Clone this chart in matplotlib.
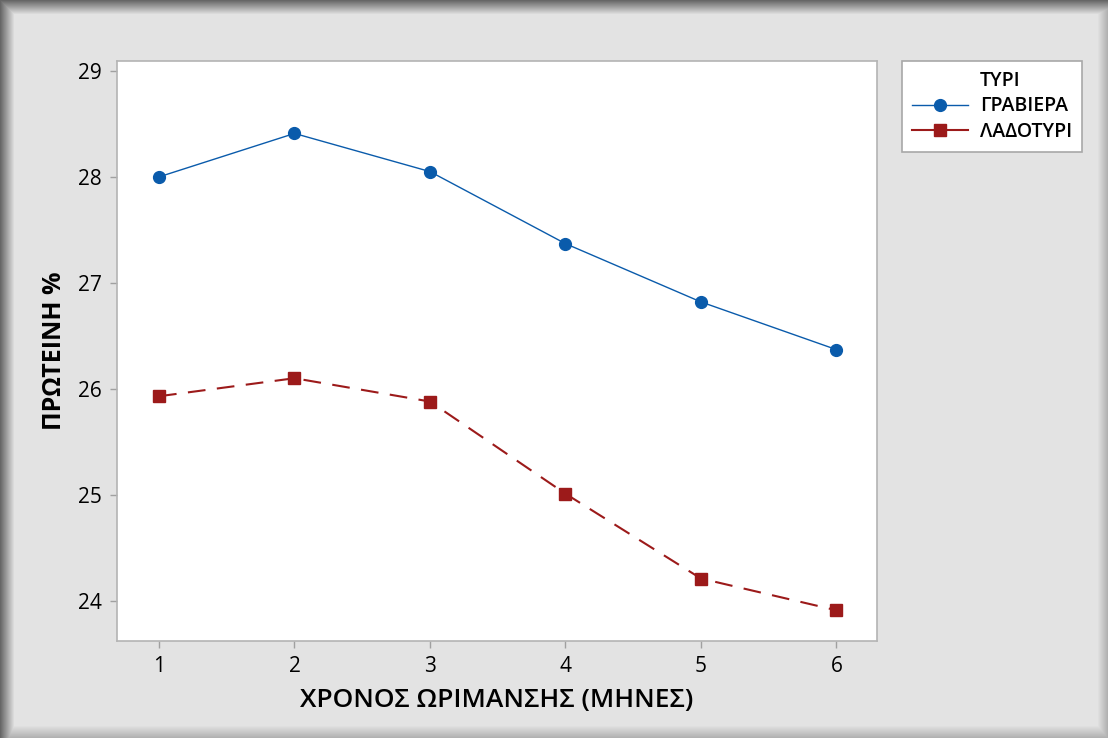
import matplotlib
matplotlib.use("Agg")
import matplotlib.pyplot as plt
import numpy as np
from matplotlib.lines import Line2D

plt.rcParams['font.family'] = ['Open Sans', 'DejaVu Sans']

# Χρόνος ωρίμανσης (μήνες) και πρωτεΐνη (%)
mhnes = [1, 2, 3, 4, 5, 6]
graviera = [28.00, 28.41, 28.05, 27.37, 26.82, 26.37]
ladotyri = [25.93, 26.10, 25.88, 25.01, 24.21, 23.91]
y_ticks = [24, 25, 26, 27, 28, 29]

BG = '#e3e3e3'
BLUE = '#0a5bab'
RED = '#9c1a1a'

fig = plt.figure(figsize=(11.08, 7.38), dpi=100, facecolor=BG)

# σκιά πλαισίου γύρω από το γράφημα
H, W = 738, 1108
yy, xx = np.mgrid[0:H, 0:W]
shade = np.zeros((H, W))
shade = np.maximum(shade, np.clip(1 - yy / 14.0, 0, 1) * 0.55)
shade = np.maximum(shade, np.clip(1 - xx / 14.0, 0, 1) * 0.55)
shade = np.maximum(shade, np.clip(1 - (W - 1 - xx) / 10.0, 0, 1) * 0.22)
shade = np.maximum(shade, np.clip(1 - (H - 1 - yy) / 12.0, 0, 1) * 0.22)
img = np.zeros((H, W, 4))
img[..., 3] = shade
bg_ax = fig.add_axes([0, 0, 1, 1], zorder=-10)
bg_ax.imshow(img, aspect='auto', interpolation='bilinear')
bg_ax.axis('off')

ax = fig.add_axes([0.1056, 0.1314, 0.686, 0.786])
ax.set_facecolor('white')

ax.plot(mhnes, graviera, color=BLUE, lw=1.0, marker='o', ms=8.5,
        markerfacecolor=BLUE, markeredgecolor=BLUE)
ax.plot(mhnes, ladotyri, color=RED, lw=1.5, dashes=(8.5, 5.5), marker='s', ms=8.5,
        markerfacecolor=RED, markeredgecolor=RED)

ax.set_xlim(0.69, 6.30)
ax.set_ylim(23.62, 29.094)
ax.set_xticks(mhnes)
ax.set_yticks(y_ticks)
ax.tick_params(axis='both', colors='#a0a0a0', labelcolor='black', labelsize=15,
               length=5, width=1, pad=6)
for sp in ax.spines.values():
    sp.set_color('#b4b4b4')
    sp.set_linewidth(1.2)

ax.set_xlabel('ΧΡΟΝΟΣ ΩΡΙΜΑΝΣΗΣ (ΜΗΝΕΣ)', fontsize=19, fontweight='semibold',
              labelpad=8)
ax.set_ylabel('ΠΡΩΤΕΙΝΗ %', fontsize=18, fontweight='bold', labelpad=8)

handles = [
    Line2D([], [], color='none'),
    Line2D([], [], color=BLUE, lw=1.0, marker='o', ms=8.5),
    Line2D([], [], color=RED, lw=1.5, marker='s', ms=8.5),
]
labels = ['ΤΥΡΙ', 'ΓΡΑΒΙΕΡΑ', 'ΛΑΔΟΤΥΡΙ']
leg = fig.legend(handles, labels, loc='upper left',
                 bbox_to_anchor=(0.814, 0.917), fancybox=False,
                 edgecolor='#a8a8a8', framealpha=1, handlelength=2.9,
                 prop={'size': 14, 'weight': 'semibold'}, borderpad=0.5,
                 labelspacing=0.28, handletextpad=0.6, borderaxespad=0)
leg.get_frame().set_linewidth(1.2)

fig.savefig('out.png', dpi=100, facecolor=BG)
